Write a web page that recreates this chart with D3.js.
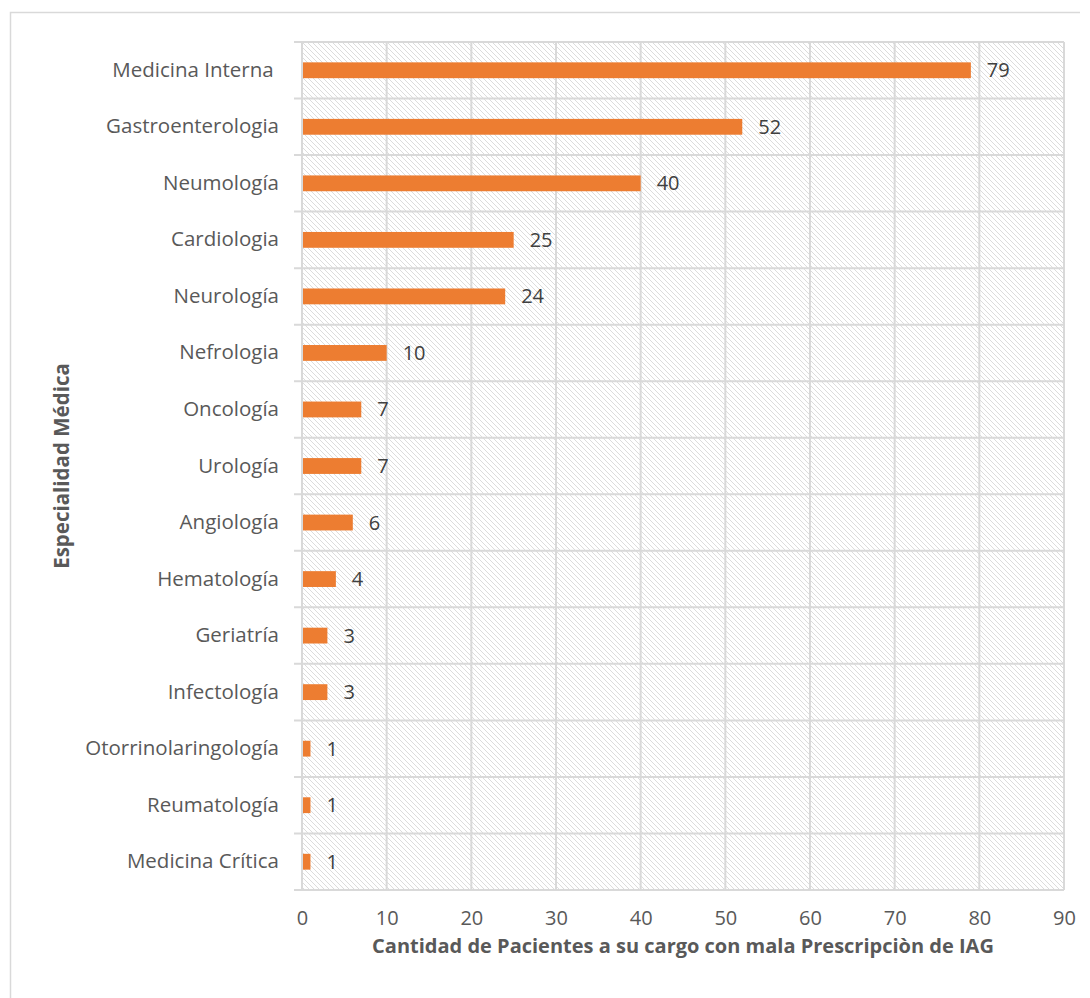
<!DOCTYPE html>
<html>
<head>
<meta charset="utf-8">
<script src="https://cdn.jsdelivr.net/npm/d3@7"></script>
<style>
  body { margin: 0; background: #fff; }
  svg text { font-family: "Open Sans", sans-serif; white-space: pre; }
</style>
</head>
<body>
<svg id="chart" width="1090" height="998"></svg>
<script>
// data
const categories = ['Medicina Interna ', 'Gastroenterologia', 'Neumología', 'Cardiologia', 'Neurología',
    'Nefrologia', 'Oncología', 'Urología', 'Angiología', 'Hematología', 'Geriatría', 'Infectología',
    'Otorrinolaringología', 'Reumatología', 'Medicina Crítica'];
const patients = [79, 52, 40, 25, 24, 10, 7, 7, 6, 4, 3, 3, 1, 1, 1];
const xTicks = [0, 10, 20, 30, 40, 50, 60, 70, 80, 90];

const xTitle = 'Cantidad de Pacientes a su cargo con mala Prescripciòn de IAG';
const yTitle = 'Especialidad Médica';

const margin = { top: 42, right: 26, bottom: 108, left: 302 };
const width = 1090 - margin.left - margin.right;
const height = 998 - margin.top - margin.bottom;
const gridColor = '#d9d9d9';

const svg = d3.select('#chart');

// outer chart frame (only top and left edges visible)
svg.append('path')
    .attr('d', 'M10.5,998 V12.5 H1080')
    .attr('fill', 'none')
    .attr('stroke', gridColor)
    .attr('stroke-width', 1.5);

const defs = svg.append('defs');
const pattern = defs.append('pattern')
    .attr('id', 'hatch')
    .attr('patternUnits', 'userSpaceOnUse')
    .attr('width', 5)
    .attr('height', 5);
pattern.append('path')
    .attr('d', 'M-1,-1 L6,6 M-1,4 L1,6 M4,-1 L6,1')
    .attr('stroke', '#dcdcdc')
    .attr('stroke-width', 1);

const chart = svg.append('g')
    .attr('transform', `translate(${margin.left}, ${margin.top})`);

const x = d3.scaleLinear()
    .domain([0, 90])
    .range([0, width]);
const y = d3.scaleBand()
    .domain(categories)
    .range([0, height])
    .paddingInner(0.72)
    .paddingOuter(0.36);

const step = y.step();
const boundary = i => y(categories[0]) - y.paddingOuter() * step + i * step;

chart.append('rect')
    .attr('width', width)
    .attr('height', height)
    .attr('fill', 'url(#hatch)');

// vertical grid
chart.append('g')
    .selectAll('line')
    .data(xTicks)
    .join('line')
        .attr('x1', d => x(d))
        .attr('x2', d => x(d))
        .attr('y1', 0)
        .attr('y2', height)
        .attr('stroke', gridColor)
        .attr('stroke-width', 2);

// category separators, extending left as tick marks
chart.append('g')
    .selectAll('line')
    .data(d3.range(categories.length + 1))
    .join('line')
        .attr('x1', -8)
        .attr('x2', width)
        .attr('y1', d => boundary(d))
        .attr('y2', d => boundary(d))
        .attr('stroke', gridColor)
        .attr('stroke-width', 2);

chart.append('line')
    .attr('x1', width)
    .attr('x2', width)
    .attr('y1', 0)
    .attr('y2', height)
    .attr('stroke', gridColor)
    .attr('stroke-width', 2);

// bars
chart.append('g')
    .selectAll('rect')
    .data(patients)
    .join('rect')
        .attr('x', x(0) + 1)
        .attr('y', (d, i) => y(categories[i]))
        .attr('width', d => x(d) - x(0) - 1)
        .attr('height', y.bandwidth())
        .attr('fill', '#ED7D31');

// value labels
chart.append('g')
    .selectAll('text')
    .data(patients)
    .join('text')
        .attr('x', d => x(d) + 16)
        .attr('y', (d, i) => y(categories[i]) + y.bandwidth() / 2)
        .attr('dy', '0.35em')
        .attr('font-size', 20)
        .attr('fill', '#404040')
        .text(d => d);

// axes
const yAxis = d3.axisLeft(y).tickSize(0).tickPadding(23);
chart.append('g')
    .call(yAxis)
    .call(g => g.select('.domain').remove())
    .selectAll('text')
        .attr('font-size', 20.5)
        .attr('fill', '#595959');

const xAxis = d3.axisBottom(x).tickValues(xTicks).tickSize(0).tickPadding(21);
chart.append('g')
    .attr('transform', `translate(0, ${height})`)
    .call(xAxis)
    .call(g => g.select('.domain').remove())
    .selectAll('text')
        .attr('font-size', 20)
        .attr('fill', '#595959');

chart.append('text')
    .attr('x', width / 2)
    .attr('y', height + 63)
    .attr('text-anchor', 'middle')
    .attr('font-size', 20)
    .attr('font-weight', 'bold')
    .attr('fill', '#595959')
    .text(xTitle);

chart.append('text')
    .attr('transform', `translate(${62 - margin.left}, ${height / 2}) rotate(-90)`)
    .attr('text-anchor', 'middle')
    .attr('dy', '0.35em')
    .attr('font-size', 20.5)
    .attr('font-weight', 'bold')
    .attr('fill', '#595959')
    .text(yTitle);
</script>
</body>
</html>
